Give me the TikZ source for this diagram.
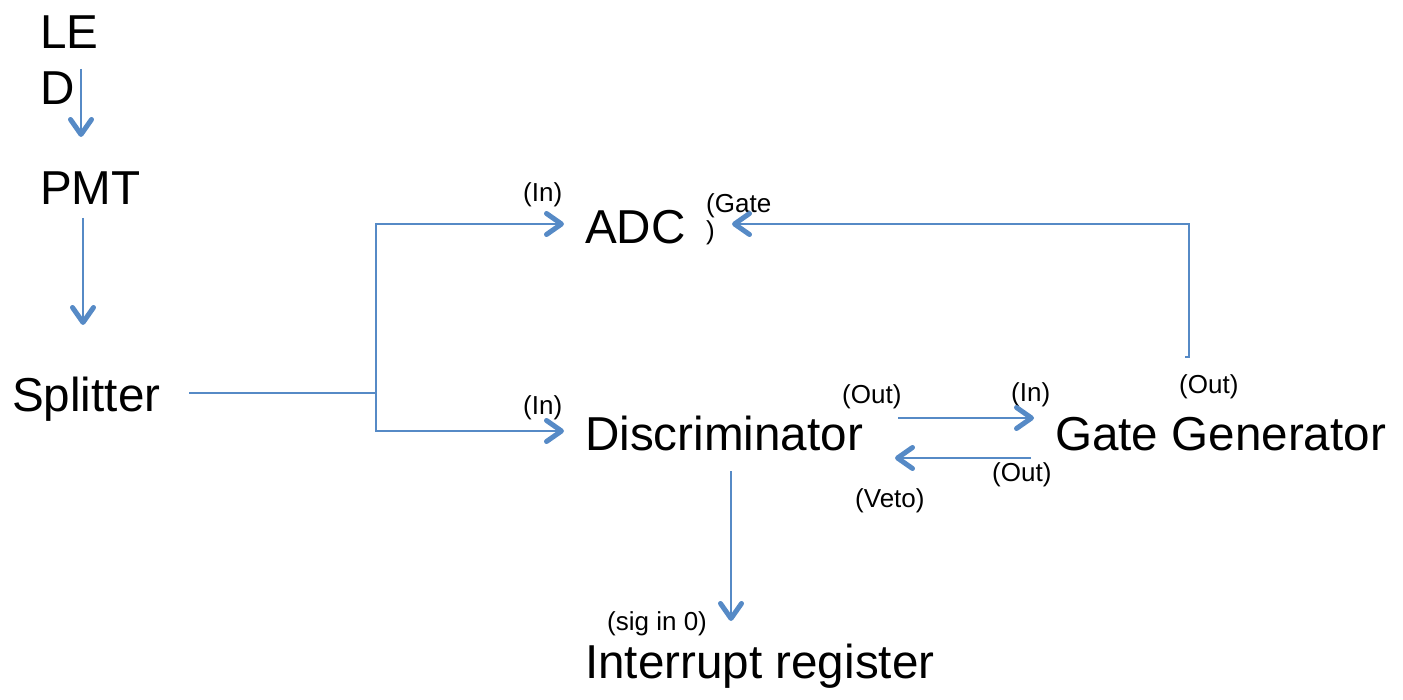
\documentclass[tikz,border=0pt]{standalone}
\usepackage{fontspec}
\setmainfont{Liberation Sans}
\usetikzlibrary{arrows.meta}
\definecolor{lineblue}{RGB}{86,138,198}
\tikzset{
  big/.style={font=\fontsize{47.6}{56}\selectfont, inner sep=0pt, anchor=base west, text=black},
  small/.style={font=\fontsize{26}{27}\selectfont, inner sep=0pt, anchor=base west, text=black},
  conn/.style={draw=lineblue, line width=2.2pt},
  arr/.style={conn, -{Straight Barb[length=15pt,width=21pt,line width=5pt,round]}}
}
\begin{document}
\begin{tikzpicture}[x=1pt,y=-1pt]
\useasboundingbox (0,0) rectangle (1403,700);
% main labels
\node[big,align=left,anchor=north west] (led) at (40,16) {LE\\D};
\node[big] (pmt) at (40,205) {PMT};
\node[big] (spl) at (12,412) {Splitter};
\node[big] (adc) at (585,244) {ADC};
\node[big] (disc) at (585,450) {Discriminator};
\node[big] (gg) at (1055,450) {Gate Generator};
\node[big] (ir) at (585,678) {Interrupt register};
% port labels
\node[small] (adcin) at (523,202) {(In)};
\node[small,align=left,anchor=north west] (adcgate) at (706,193) {(Gate\\)};
\node[small] (discin) at (523,415) {(In)};
\node[small] (discout) at (842,404) {(Out)};
\node[small] (ggin) at (1011,402) {(In)};
\node[small] (ggout) at (1179,394) {(Out)};
\node[small] (ggout2) at (992,481) {(Out)};
\node[small] (veto) at (855,507) {(Veto)};
\node[small] (sigin) at (607,630) {(sig in 0)};
% connector end points
\coordinate (ledS) at (81,69);
\coordinate (pmtN) at (81,137);
\coordinate (pmtS) at (83,218);
\coordinate (splN) at (83,325);
\coordinate (splE) at (189,393);
\coordinate (jmid) at (376,393);
\coordinate (jtop) at (376,224);
\coordinate (jbot) at (376,431);
\coordinate (adcW) at (564,224);
\coordinate (discW) at (564,431);
\coordinate (ggStub) at (1185,357);
\coordinate (ggUp) at (1189,357);
\coordinate (ggTop) at (1189,224);
\coordinate (adcE) at (732,224);
\coordinate (discE1) at (898,418);
\coordinate (ggW1) at (1034,418);
\coordinate (ggW2) at (1031,458);
\coordinate (discE2) at (895,458);
\coordinate (discS) at (731,471);
\coordinate (irN) at (731,621);
% connectors
\draw[arr] (ledS) -- (pmtN);
\draw[arr] (pmtS) -- (splN);
\draw[conn] (splE) -- (jmid);
\draw[arr] (jmid) -- (jtop) -- (adcW);
\draw[arr] (jmid) -- (jbot) -- (discW);
\draw[arr] (ggStub) -- (ggUp) -- (ggTop) -- (adcE);
\draw[arr] (discE1) -- (ggW1);
\draw[arr] (ggW2) -- (discE2);
\draw[arr] (discS) -- (irN);
\end{tikzpicture}
\end{document}
